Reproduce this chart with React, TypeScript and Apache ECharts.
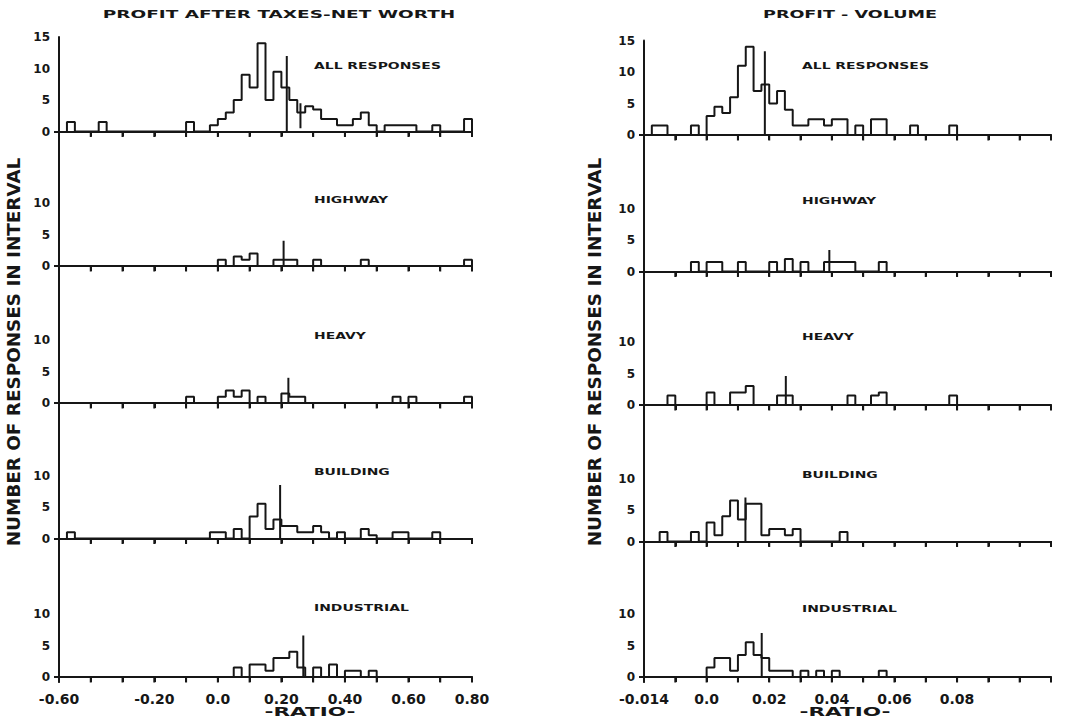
import React, { useEffect, useRef } from "react";
import * as echarts from "echarts";

// ---------- DATA ----------
// Profit after taxes / net worth (bin width 0.025): [bin start, responses]
const PATNW_BIN = 0.025;
const PATNW_ALL = [
  [-0.475, 1.5], [-0.375, 1.5], [-0.1, 1.5],
  [-0.025, 1], [0, 2], [0.025, 3], [0.05, 5], [0.075, 9], [0.1, 7], [0.125, 14],
  [0.15, 5], [0.175, 9.5], [0.2, 7], [0.225, 5], [0.25, 3], [0.275, 4], [0.3, 3.5],
  [0.325, 2], [0.35, 2], [0.375, 1], [0.4, 1], [0.425, 2], [0.45, 3], [0.475, 1],
  [0.525, 1], [0.55, 1], [0.575, 1], [0.6, 1], [0.675, 1], [0.775, 2],
];
const PATNW_HIGHWAY = [
  [0, 1], [0.05, 1.5], [0.075, 1], [0.1, 2], [0.175, 1], [0.2, 1], [0.225, 1],
  [0.3, 1], [0.45, 1], [0.775, 1],
];
const PATNW_HEAVY = [
  [-0.1, 1], [0, 1], [0.025, 2], [0.05, 1], [0.075, 2], [0.125, 1], [0.2, 1.5],
  [0.225, 1], [0.25, 1], [0.55, 1], [0.6, 1], [0.775, 1],
];
const PATNW_BUILDING = [
  [-0.475, 1], [-0.025, 1], [0, 1], [0.05, 1.5], [0.1, 3.5], [0.125, 5.5], [0.15, 1.5],
  [0.175, 3], [0.2, 2], [0.225, 2], [0.25, 1], [0.275, 1], [0.3, 2], [0.325, 1],
  [0.375, 1], [0.45, 1.5], [0.475, 0.5], [0.55, 1], [0.575, 1], [0.675, 1],
];
const PATNW_INDUSTRIAL = [
  [0.05, 1.5], [0.1, 2], [0.125, 2], [0.15, 1], [0.175, 3], [0.2, 3], [0.225, 4],
  [0.25, 1.5], [0.3, 1.5], [0.35, 2], [0.4, 1], [0.425, 1], [0.475, 1],
];
// median markers: [x, from, to]
const PATNW_MARKERS = [
  [[0.217, 0, 12], [0.26, 0.5, 4.5]],
  [[0.207, 0, 4]],
  [[0.222, 0, 4]],
  [[0.196, 0, 8.5]],
  [[0.269, 0, 6.6]],
];

// Profit / volume (bin width 0.0025)
const PV_BIN = 0.0025;
const PV_ALL = [
  [-0.0175, 1.5], [-0.015, 1.5], [-0.005, 1.5],
  [0, 3], [0.0025, 4.5], [0.005, 3.5], [0.0075, 6], [0.01, 11], [0.0125, 14],
  [0.015, 7], [0.0175, 8], [0.02, 5], [0.0225, 7], [0.025, 4], [0.0275, 1.5],
  [0.03, 1.5], [0.0325, 2.5], [0.035, 2.5], [0.0375, 1.5], [0.04, 2.5], [0.0425, 2.5],
  [0.0475, 1.5], [0.0525, 2.5], [0.055, 2.5], [0.065, 1.5], [0.0775, 1.5],
];
const PV_HIGHWAY = [
  [-0.005, 1.5], [0, 1.5], [0.0025, 1.5], [0.01, 1.5], [0.02, 1.5], [0.025, 2],
  [0.03, 1.5], [0.0375, 1.5], [0.04, 1.5], [0.0425, 1.5], [0.045, 1.5], [0.055, 1.5],
];
const PV_HEAVY = [
  [-0.0125, 1.5], [0, 2], [0.0075, 2], [0.01, 2], [0.0125, 3], [0.0225, 1.5],
  [0.025, 1.5], [0.045, 1.5], [0.0525, 1.5], [0.055, 2], [0.0775, 1.5],
];
const PV_BUILDING = [
  [-0.015, 1.5], [-0.005, 1.5], [0, 3], [0.0025, 1], [0.005, 4], [0.0075, 6.5],
  [0.01, 3.5], [0.0125, 6], [0.015, 6], [0.0175, 1], [0.02, 2], [0.0225, 2],
  [0.025, 1], [0.0275, 2], [0.0425, 1.5],
];
const PV_INDUSTRIAL = [
  [0, 1.5], [0.0025, 3], [0.005, 3], [0.0075, 1], [0.01, 3.5], [0.0125, 5.5],
  [0.015, 3.5], [0.0175, 3], [0.02, 1], [0.0225, 1], [0.025, 1], [0.03, 1],
  [0.035, 1], [0.04, 1], [0.055, 1],
];
const PV_MARKERS = [
  [[0.0186, 0, 13.3]],
  [[0.0392, 0, 3.4]],
  [[0.0253, 0, 4.6]],
  [[0.0124, 0, 7]],
  [[0.0176, 0, 7]],
];

const PANEL_NAMES = ["ALL RESPONSES", "HIGHWAY", "HEAVY", "BUILDING", "INDUSTRIAL"];
const TITLE_LEFT = "PROFIT AFTER TAXES-NET WORTH";
const TITLE_RIGHT = "PROFIT - VOLUME";
const Y_NAME = "NUMBER OF RESPONSES IN INTERVAL";
const X_NAME = "-RATIO-";

const PATNW_X = { min: -0.5, max: 0.8, interval: 0.1 };
const PATNW_TICK_VALUES = [-0.5, -0.2, 0, 0.2, 0.4, 0.6, 0.8];
const PATNW_TICK_LABELS = ["-0.60", "-0.20", "0.0", "0.20", "0.40", "0.60", "0.80"];
const PV_X = { min: -0.02, max: 0.11, interval: 0.01 };
const PV_TICK_VALUES = [-0.02, 0, 0.02, 0.04, 0.06, 0.08];
const PV_TICK_LABELS = ["-0.014", "0.0", "0.02", "0.04", "0.06", "0.08"];
const Y_TOP_LABELS = [0, 5, 10, 15];
const Y_LABELS = [0, 5, 10];

// ---------- LAYOUT ----------
const INK = "#161616";
const FONT = "DejaVu Sans";
const UNIT = 6.3; // px per response
const TICK_PX = 5;
const COLS = [
  { x0: 59, w: 413, bases: [131.5, 266, 403, 538.5, 677], labelX: 314, nameX: 14, titleX: 279, titleScale: 1.68, ratioX: 310 },
  { x0: 644, w: 407, bases: [135, 271.5, 405, 541.5, 677], labelX: 802, nameX: 595, titleX: 850, titleScale: 1.6, ratioX: 845 },
];
const LABEL_Y = [
  [66, 200, 336, 472, 608],
  [66, 201, 337, 475, 609],
];

function histPoints(bins: number[][], w: number) {
  const sorted = [...bins].sort((a, b) => a[0] - b[0]);
  const pts: number[][] = [];
  let prevEnd: number | null = null;
  for (const [s, h] of sorted) {
    const e = s + w;
    if (prevEnd === null || Math.abs(s - prevEnd) > w * 1e-3) {
      if (prevEnd !== null) pts.push([prevEnd, 0]);
      pts.push([s, 0]);
    }
    pts.push([s, h]);
    pts.push([e, h]);
    prevEnd = e;
  }
  if (prevEnd !== null) pts.push([prevEnd, 0]);
  return pts;
}

function labelFor(values: number[], labels: string[]) {
  return (v: number) => {
    for (let i = 0; i < values.length; i++) {
      if (Math.abs(values[i] - v) < 1e-6) return labels[i];
    }
    return "";
  };
}

function tickRange(min: number, max: number, step: number) {
  const n = Math.round((max - min) / step);
  const out: number[] = [];
  for (let k = 0; k <= n; k++) out.push(+(min + k * step).toFixed(6));
  return out;
}

export default function App() {
  const ref = useRef<HTMLDivElement>(null);
  useEffect(() => {
    if (!ref.current) return;
    const chart = echarts.init(ref.current, undefined, { renderer: "svg" });

    const colData = [
      { hists: [PATNW_ALL, PATNW_HIGHWAY, PATNW_HEAVY, PATNW_BUILDING, PATNW_INDUSTRIAL], bin: PATNW_BIN, markers: PATNW_MARKERS, x: PATNW_X, tv: PATNW_TICK_VALUES, tl: PATNW_TICK_LABELS },
      { hists: [PV_ALL, PV_HIGHWAY, PV_HEAVY, PV_BUILDING, PV_INDUSTRIAL], bin: PV_BIN, markers: PV_MARKERS, x: PV_X, tv: PV_TICK_VALUES, tl: PV_TICK_LABELS },
    ];

    const grids: any[] = [];
    const xAxes: any[] = [];
    const yAxes: any[] = [];
    const series: any[] = [];
    const graphics: any[] = [];
    const mkLine = () => ({ color: INK, width: 2 });
    const yMin = -TICK_PX / UNIT; // room below the baseline for the tick marks

    COLS.forEach((col, c) => {
      const cd = colData[c];
      const xTicks = tickRange(cd.x.min, cd.x.max, cd.x.interval);
      for (let i = 0; i < 5; i++) {
        const idx = grids.length;
        const base = col.bases[i];
        const top = i === 0 ? base - 15 * UNIT : col.bases[i - 1];
        grids.push({ left: col.x0, top, width: col.w, height: base - top + TICK_PX });
        const isBottom = i === 4;
        xAxes.push({
          gridIndex: idx,
          type: "value",
          min: cd.x.min,
          max: cd.x.max,
          interval: cd.x.interval,
          axisLine: { show: true, onZero: true, lineStyle: mkLine() },
          axisTick: { show: true, inside: false, length: TICK_PX, lineStyle: mkLine() },
          splitLine: { show: false },
          axisLabel: {
            show: isBottom,
            customValues: cd.tv,
            formatter: labelFor(cd.tv, cd.tl),
            fontFamily: FONT,
            fontWeight: "bold",
            fontSize: 14,
            color: INK,
            margin: 10,
          },
        });
        const yl = i === 0 ? Y_TOP_LABELS : Y_LABELS;
        yAxes.push({
          gridIndex: idx,
          type: "value",
          min: yMin,
          max: (base - top) / UNIT,
          axisLine: { show: true, onZero: false, lineStyle: mkLine() },
          axisTick: { show: true, customValues: [0], length: 5, lineStyle: mkLine() },
          splitLine: { show: false },
          axisLabel: {
            customValues: yl,
            formatter: labelFor(yl, yl.map(String)),
            fontFamily: FONT,
            fontWeight: "bold",
            fontSize: 12,
            color: INK,
            margin: 9,
          },
        });
        // tick marks below the x axis at every axis interval, as rectangle symbols
        series.push({
          type: "line",
          xAxisIndex: idx,
          yAxisIndex: idx,
          data: xTicks.map((v) => [v, yMin / 2]),
          symbol: "rect",
          symbolSize: [2, TICK_PX + 1],
          showSymbol: true,
          showAllSymbol: true,
          lineStyle: { width: 0, opacity: 0 },
          itemStyle: { color: INK, opacity: 1, borderWidth: 0 },
          silent: true,
          z: 2,
        });
        series.push({
          type: "line",
          xAxisIndex: idx,
          yAxisIndex: idx,
          data: histPoints(cd.hists[i], cd.bin),
          showSymbol: false,
          symbol: "none",
          lineStyle: mkLine(),
          silent: true,
          z: 3,
        });
        cd.markers[i].forEach((m) => {
          series.push({
            type: "line",
            xAxisIndex: idx,
            yAxisIndex: idx,
            data: [[m[0], m[1]], [m[0], m[2]]],
            showSymbol: false,
            symbol: "none",
            lineStyle: mkLine(),
            silent: true,
            z: 4,
          });
        });
        graphics.push({
          type: "text",
          x: col.labelX,
          y: LABEL_Y[c][i],
          scaleX: 1.55,
          style: {
            text: PANEL_NAMES[i],
            fontFamily: FONT,
            fontWeight: "bold",
            fontSize: 9,
            fill: INK,
            textAlign: "left",
            textVerticalAlign: "middle",
            align: "left",
            verticalAlign: "middle",
          },
        });
      }
      graphics.push({
        type: "text",
        x: col.titleX,
        y: 14,
        scaleX: col.titleScale,
        style: {
          text: c === 0 ? TITLE_LEFT : TITLE_RIGHT,
          fontFamily: FONT,
          fontWeight: "bold",
          fontSize: 11,
          fill: INK,
          textAlign: "center",
          textVerticalAlign: "middle",
          align: "center",
          verticalAlign: "middle",
        },
      });
      graphics.push({
        type: "text",
        x: col.nameX,
        y: 352,
        rotation: Math.PI / 2,
        scaleX: 1.08,
        style: {
          text: Y_NAME,
          fontFamily: FONT,
          fontWeight: "bold",
          fontSize: 17,
          fill: INK,
          textAlign: "center",
          textVerticalAlign: "middle",
          align: "center",
          verticalAlign: "middle",
        },
      });
      graphics.push({
        type: "text",
        x: col.ratioX,
        y: 712,
        scaleX: 1.8,
        style: {
          text: X_NAME,
          fontFamily: FONT,
          fontWeight: "bold",
          fontSize: 12,
          fill: INK,
          textAlign: "center",
          textVerticalAlign: "middle",
          align: "center",
          verticalAlign: "middle",
        },
      });
    });

    chart.setOption({
      animation: false,
      backgroundColor: "#ffffff",
      grid: grids,
      xAxis: xAxes,
      yAxis: yAxes,
      series,
      graphic: graphics,
    });
    return () => chart.dispose();
  }, []);

  return (
    <div
      ref={ref}
      style={{ position: "fixed", left: 0, top: 0, width: 1067, height: 720, background: "#fff" }}
    />
  );
}
